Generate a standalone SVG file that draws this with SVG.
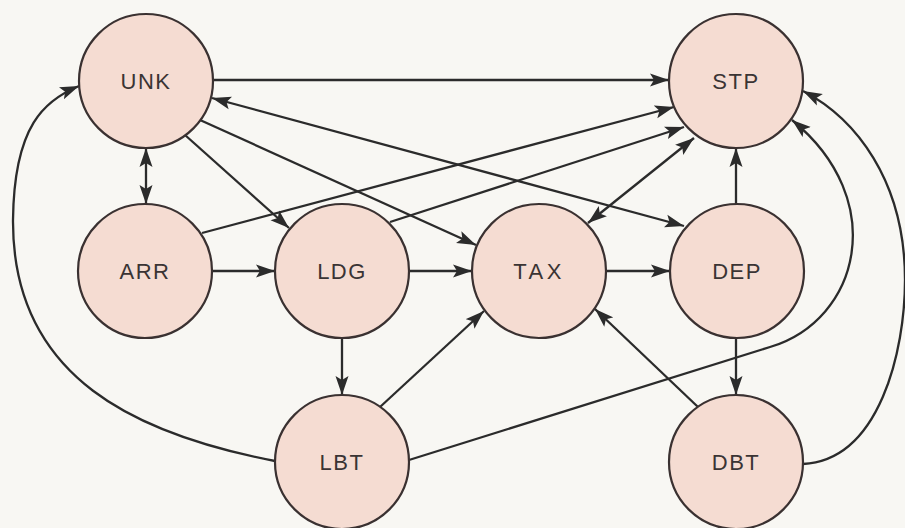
<svg xmlns="http://www.w3.org/2000/svg" width="905" height="528" viewBox="0 0 905 528">
<style>
.node circle{fill:#f5dcd2;stroke:#3a3131;stroke-width:2.2}
.node text{font-family:"Liberation Sans",Arial,sans-serif;font-size:22px;fill:#3a3434;text-anchor:middle;letter-spacing:1.5px}
.edges path{fill:none;stroke:#2b2b2b;stroke-width:2.3}
</style>
<defs>
<marker id="ah" markerUnits="userSpaceOnUse" markerWidth="20" markerHeight="14" refX="19" refY="7" orient="auto-start-reverse" viewBox="0 0 20 14">
<path d="M0,0.5 L19,7 L0,13.5 L4,7 z" fill="#2b2b2b"/>
</marker>
</defs>
<rect width="905" height="528" fill="#f8f7f3"/>
<g class="edges">
<path d="M213,80 L669,80" marker-end="url(#ah)"/>
<path d="M146,148 L146,204" marker-start="url(#ah)" marker-end="url(#ah)"/>
<path d="M185,135 L289,228" marker-end="url(#ah)"/>
<path d="M200,120 L476,245" marker-end="url(#ah)"/>
<path d="M212,98 L684,226" marker-start="url(#ah)" marker-end="url(#ah)"/>
<path d="M202,233 L674,107" marker-end="url(#ah)"/>
<path d="M212,271 L275,271" marker-end="url(#ah)"/>
<path d="M390,222 L684,127" marker-end="url(#ah)"/>
<path d="M409,271 L472,271" marker-end="url(#ah)"/>
<path d="M342,338 L342,395" marker-end="url(#ah)"/>
<path d="M588,223 L694,138" marker-start="url(#ah)" marker-end="url(#ah)"/>
<path d="M606,271 L670,271" marker-end="url(#ah)"/>
<path d="M736,204 L736,148" marker-end="url(#ah)"/>
<path d="M736,338 L736,395" marker-end="url(#ah)"/>
<path d="M380,407 L484,311" marker-end="url(#ah)"/>
<path d="M698,407 L595,309" marker-end="url(#ah)"/>
<path d="M409,460 L770,347 C860,320 890,200 792,120" marker-end="url(#ah)"/>
<path d="M803,464 C880,460 905,350 905,280 C905,180 855,118 803,91" marker-end="url(#ah)"/>
<path d="M275,461 C140,435 12,380 13,220 C14,125 45,100 79,86" marker-end="url(#ah)"/>
</g>
<g id="UNK" class="node"><circle cx="146" cy="81" r="67"/><text x="146" y="89">UNK</text></g>
<g id="STP" class="node"><circle cx="736" cy="81" r="67"/><text x="736" y="89">STP</text></g>
<g id="ARR" class="node"><circle cx="145" cy="271" r="67"/><text x="145" y="279">ARR</text></g>
<g id="LDG" class="node"><circle cx="342" cy="271" r="67"/><text x="342" y="279">LDG</text></g>
<g id="TAX" class="node"><circle cx="539" cy="271" r="67"/><text x="539" y="279" style="letter-spacing:3.5px">TAX</text></g>
<g id="DEP" class="node"><circle cx="737" cy="271" r="67"/><text x="737" y="279">DEP</text></g>
<g id="LBT" class="node"><circle cx="342" cy="462" r="67"/><text x="342" y="470">LBT</text></g>
<g id="DBT" class="node"><circle cx="736" cy="462" r="67"/><text x="736" y="470">DBT</text></g>
</svg>
